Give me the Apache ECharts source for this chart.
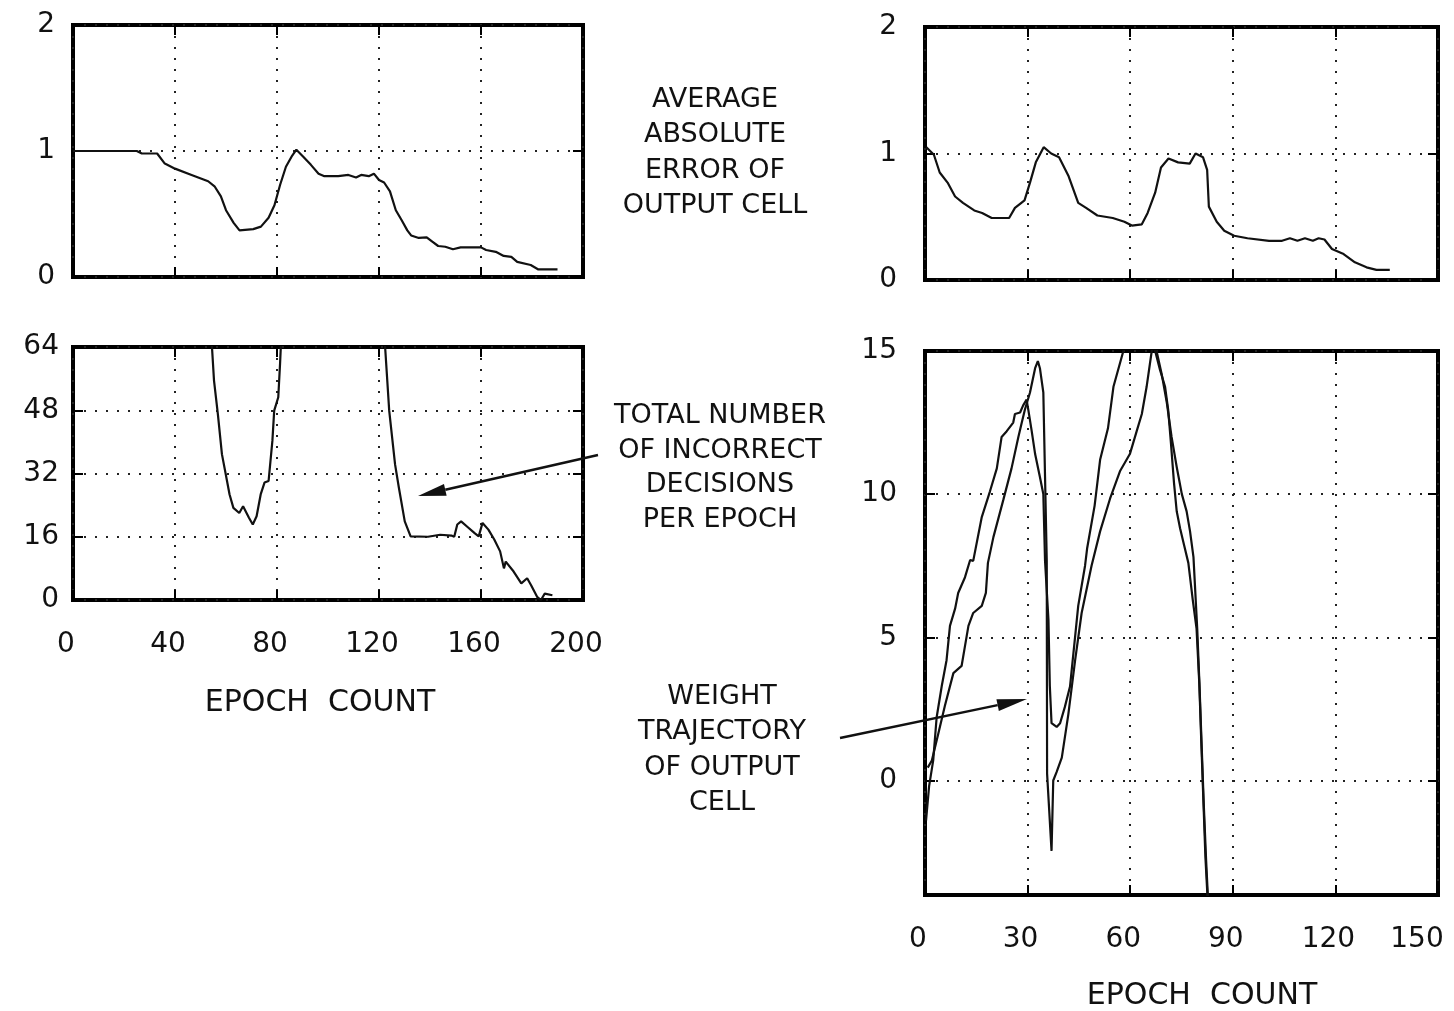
<!DOCTYPE html>
<html><head><meta charset="utf-8">
<script src="https://cdn.jsdelivr.net/npm/echarts@6/dist/echarts.min.js"></script>
<style>html,body{margin:0;padding:0;background:#fff}#c{width:1454px;height:1011px}</style>
</head><body><div id="c"></div>
<script>
// ---------- DATA ----------
// Top-left: average absolute error of output cell (epoch 0-200)
const errLeftX = [0,25,27,33,36,40,46.5,53,55.5,58,60,63,65.3,70.7,73.7,76.7,79,81.2,83.5,85.7,87.6,90.3,93.3,96.3,98.6,104,108,111,113,116,118,120,122,124.3,126.6,128.9,131.1,132.6,135.6,138.7,140.9,143.2,146,149,152,160,162,165.8,168.9,171.9,174.2,179.5,182.5,190];
const errLeftY = [1,1,0.98,0.98,0.9,0.86,0.81,0.76,0.72,0.64,0.53,0.43,0.37,0.38,0.40,0.47,0.57,0.73,0.875,0.955,1.01,0.955,0.89,0.82,0.80,0.80,0.81,0.79,0.81,0.80,0.82,0.77,0.75,0.68,0.53,0.45,0.37,0.33,0.31,0.315,0.28,0.246,0.24,0.22,0.235,0.235,0.214,0.20,0.167,0.16,0.12,0.095,0.06,0.06];
// Bottom-left: total number of incorrect decisions per epoch
const wrongX = [53,54.5,55.3,56.8,58.4,59.9,61.4,62.9,65.2,66.7,69,70.5,72,73.6,75.1,76.7,78.2,78.9,80.5,81.2,81.5,82,121.5,122.4,124,126.3,127.8,130.1,132.4,139.2,144,148.4,149.5,150.7,152.2,154.5,157.5,159.1,160.6,162.9,165.2,167.5,169,169.7,172.8,175.8,178.1,179.6,182,183.5,185,188];
const wrongY = [70,64,55.5,47.1,36.9,31.8,26.7,23.3,22.0,23.7,20.8,19.1,21.2,26.7,29.7,30.1,40.3,47.9,51.3,59.8,64,70,70,64,47.9,34.3,28.4,19.9,16.1,16,16.5,16.3,16,19.1,19.9,18.6,16.9,16.1,19.5,17.8,15.3,12.3,8.0,9.7,7.2,4.2,5.5,3.8,0.8,0,1.6,1.2];
// Top-right: average absolute error of output cell (epoch 0-150)
const errRightX = [0.4,2.6,4.3,6.6,8.8,11.1,14.4,16.7,19.5,24.6,26.3,29.1,30.7,32.4,34.7,36.9,39.2,42,44.8,47.1,50.4,54.9,58.3,60.5,63.4,65.1,67.3,69,71.2,74,77.4,79.1,81.3,82.5,83,85.3,87.5,90.4,94.3,100.6,104.4,106.7,108.9,111.1,113.4,115.1,116.8,119,122.4,125.7,129.1,132,135.9];
const errRightY = [1.05,0.99,0.85,0.77,0.66,0.61,0.55,0.53,0.49,0.49,0.57,0.63,0.77,0.93,1.05,1.0,0.97,0.82,0.61,0.57,0.51,0.49,0.46,0.43,0.44,0.53,0.69,0.89,0.96,0.93,0.92,1.0,0.97,0.87,0.58,0.46,0.39,0.35,0.33,0.31,0.31,0.33,0.31,0.33,0.31,0.33,0.32,0.245,0.205,0.14,0.10,0.08,0.08];
// Bottom-right: weight trajectories of output cell (two traces)
const weightAX = [0.3,1.2,2.4,3.4,4.9,6.3,7.3,8.8,9.7,11.7,13.2,14.1,16.6,19,21,22.4,23.9,25.8,26.3,27.8,28.7,29.7,30.2,31.2,32.2,33.6,34.6,35.1,36.1,36.5,37.0,38.5,39.5,40.9,42.4,43.9,44.8,46.8,47.4,49.6,51.2,53.5,55.1,58,62,67.3,68.7,70.2,71.1,71.9,72.8,73.6,74.6,75.8,77,78.3,79.4,80.2,80.8,81.4,82,82.8];
const weightAY = [-1.4,-0.2,0.7,2.2,3.3,4.2,5.4,6.0,6.55,7.1,7.7,7.67,9.2,10.1,10.9,12.0,12.2,12.5,12.8,12.85,13.1,13.3,12.95,12.2,11.4,10.6,10.0,7.67,5.6,3.3,2.0,1.87,2.0,2.57,3.28,5.03,6.1,7.5,8.1,9.6,11.2,12.3,13.75,15,16,15,14.35,13.75,12.95,11.8,10.4,9.4,8.8,8.2,7.6,6.3,5.3,3.4,1.3,-0.7,-2.7,-4.5];
const weightBX = [0.8,2.0,3.9,5.8,8.3,10.7,11.7,12.7,14.1,16.6,17.8,18.4,20,22.9,25.3,27.3,28.3,29.2,30.7,32.2,33,33.6,34.6,35.1,35.6,35.7,37.0,37.5,38.5,40,41.9,43.9,45.8,48.7,51.2,54.1,57,59.9,61.9,63.4,64.8,66.3,67,67.7,69.2,70.7,72.1,73.6,75.1,76.5,77.5,78.5,79.6,80.3,80.9,81.5,82.2,82.9];
const weightBY = [0.45,0.7,1.64,2.6,3.75,4.0,4.7,5.4,5.85,6.1,6.55,7.6,8.5,9.8,10.9,12.0,12.5,12.95,13.55,14.4,14.65,14.4,13.55,10.6,7.67,0.24,-2.46,0,0.3,0.8,2.3,4.2,5.85,7.5,8.7,9.84,10.8,11.4,12.2,12.8,13.75,15,15.3,15,14.2,13.2,12.0,10.95,10.0,9.4,8.7,7.8,5.3,3.2,1.2,-0.8,-2.8,-4.5];
// Tick labels
const leftEpochTicks = [0,40,80,120,160,200];
const rightEpochTicks = [0,30,60,90,120,150];
const errorTicks = [0,1,2];
const wrongTicks = [0,16,32,48,64];
const weightTicks = [0,5,10,15];
const weightMin = -4;

// ---------- STYLE ----------
const FONT = 'DejaVu Sans';
const INK = '#111';
const zip = (xs, ys) => xs.map((x, i) => [x, ys[i]]);
const grids = [
  {left: 73, top: 25, width: 510, height: 252},
  {left: 73, top: 347, width: 510, height: 253},
  {left: 925, top: 27, width: 513, height: 253},
  {left: 925, top: 351, width: 513, height: 544}
].map(g => Object.assign(g, {show: true, borderColor: '#000', borderWidth: 4, containLabel: false}));

const dotted = {show: true, lineStyle: {color: '#222', width: 2, type: [2, 9]}};
const tickIn = vals => ({show: true, inside: true, length: 10, lineStyle: {color: '#000', width: 2}, customValues: vals});
const noLine = {show: false, onZero: false};

function xPair(grid, ticks, showLabels, rich) {
  const min = ticks[0], max = ticks[ticks.length - 1];
  const base = {type: 'value', gridIndex: grid, min, max, interval: ticks[1] - ticks[0], axisLine: noLine};
  const bottom = Object.assign({}, base, {position: 'bottom', axisTick: tickIn(ticks), splitLine: dotted,
    axisLabel: showLabels ? {show: true, customValues: ticks, margin: 31, color: INK, fontFamily: FONT, fontSize: 28,
      formatter: v => (v === max && rich.last ? '{b|' + v + '}' : '{a|' + v + '}'),
      rich: {a: {fontFamily: FONT, fontSize: 28, color: INK, padding: [0, rich.pad, 0, 0]},
             b: {fontFamily: FONT, fontSize: 28, color: INK, padding: [0, rich.last || 0, 0, 0]}}} : {show: false}});
  const top = Object.assign({}, base, {position: 'top', axisTick: tickIn(ticks), splitLine: {show: false}, axisLabel: {show: false}});
  return [bottom, top];
}
function yPair(grid, ticks, min, margin) {
  const max = ticks[ticks.length - 1];
  const base = {type: 'value', gridIndex: grid, min, max, axisLine: noLine};
  if (min === ticks[0]) base.interval = ticks[1] - ticks[0];
  const left = Object.assign({}, base, {position: 'left', axisTick: tickIn(ticks), splitLine: dotted,
    axisLabel: {show: true, customValues: ticks, margin, color: INK, fontFamily: FONT, fontSize: 28}});
  const right = Object.assign({}, base, {position: 'right', axisTick: tickIn(ticks), splitLine: {show: false}, axisLabel: {show: false}});
  return [left, right];
}

const xAxis = [
  ...xPair(0, leftEpochTicks, false),
  ...xPair(1, leftEpochTicks, true, {pad: 14}),
  ...xPair(2, rightEpochTicks, false),
  ...xPair(3, rightEpochTicks, true, {pad: 14, last: 42})
];
const yAxis = [
  ...yPair(0, errorTicks, 0, 18),
  ...yPair(1, wrongTicks, 0, 14),
  ...yPair(2, errorTicks, 0, 28),
  ...yPair(3, weightTicks, weightMin, 28)
];

function line(xi, yi, data) {
  return {type: 'line', xAxisIndex: xi, yAxisIndex: yi, data, showSymbol: false, symbol: 'none',
    clip: true, lineStyle: {color: INK, width: 2.2}, z: 3, silent: true};
}
const series = [
  line(0, 0, zip(errLeftX, errLeftY)),
  line(2, 2, zip(wrongX, wrongY)),
  line(4, 4, zip(errRightX, errRightY)),
  line(6, 6, zip(weightAX, weightAY)),
  line(6, 6, zip(weightBX, weightBY))
];

// ---------- ANNOTATIONS ----------
function arrow(x1, y1, x2, y2, len, hw) {
  const dx = x2 - x1, dy = y2 - y1, d = Math.hypot(dx, dy);
  const ux = dx / d, uy = dy / d, nx = -uy, ny = ux;
  const bx = x2 - ux * len, by = y2 - uy * len;
  return [
    {type: 'polyline', shape: {points: [[x1, y1], [bx, by]]}, style: {stroke: INK, lineWidth: 2.5, fill: null}, z: 10},
    {type: 'polygon', shape: {points: [[x2, y2], [bx + nx * hw, by + ny * hw], [bx - nx * hw, by - ny * hw]]}, style: {fill: INK}, z: 10}
  ];
}
function label(text, x, y, size, lh) {
  return {type: 'text', z: 10, style: {text, x, y, fontFamily: FONT, fontSize: size, fill: INK,
    align: 'center', verticalAlign: 'top', lineHeight: lh}};
}
const graphic = [
  label('AVERAGE\nABSOLUTE\nERROR OF\nOUTPUT CELL', 715, 82, 27, 35.5),
  label('TOTAL NUMBER\nOF INCORRECT\nDECISIONS\nPER EPOCH', 720, 398.5, 27, 34.7),
  label('WEIGHT\nTRAJECTORY\nOF OUTPUT\nCELL', 722, 679.5, 27, 35.3),
  label('EPOCH  COUNT', 320, 686, 30, 34),
  label('EPOCH  COUNT', 1202, 979, 30, 34),
  ...arrow(598, 455, 418, 496, 28, 6),
  ...arrow(840, 738, 1027, 699, 30, 6)
];

const chart = echarts.init(document.getElementById('c'), null, {renderer: 'canvas'});
chart.setOption({backgroundColor: '#fff', animation: false, grid: grids, xAxis, yAxis, series, graphic});
</script></body></html>
